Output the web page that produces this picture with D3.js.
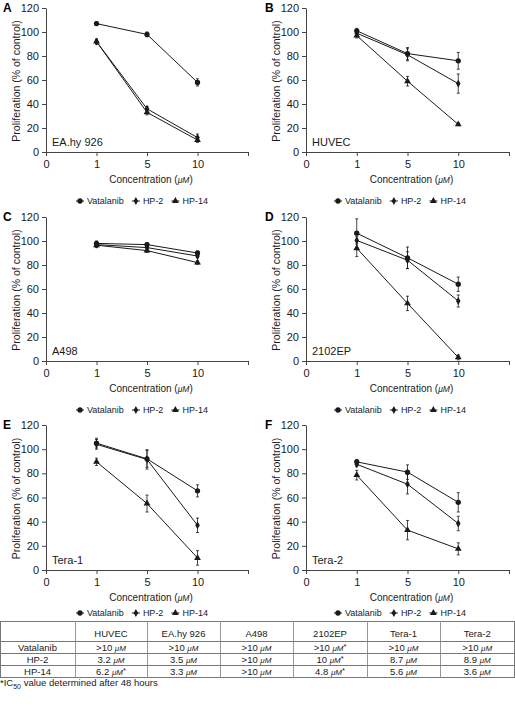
<!DOCTYPE html>
<html><head><meta charset="utf-8">
<script src="https://cdn.jsdelivr.net/npm/d3@7"></script>
<style>
html,body{margin:0;padding:0;background:#fff;}
svg{display:block;font-family:"Liberation Sans",Arial,Helvetica,sans-serif;}
</style></head>
<body>
<svg id="chart" width="515" height="712"></svg>
<script>
// ---------- data ----------
const categories = ["0", "1", "5", "10"];
const concentrations = ["1", "5", "10"];
const seriesNames = ["Vatalanib", "HP-2", "HP-14"];
const panelLetters = ["A", "B", "C", "D", "E", "F"];
const cellLines = ["EA.hy 926", "HUVEC", "A498", "2102EP", "Tera-1", "Tera-2"];
const yTicks = [0, 20, 40, 60, 80, 100, 120];

// values (% of control) at 1, 5, 10 µM, with error bar half-lengths
const eahyVatalanib = [107, 98, 58];     const eahyVatalanibErr = [1.5, 2, 3];
const eahyHP2 = [92, 36, 12];            const eahyHP2Err = [2, 2, 3];
const eahyHP14 = [92, 33, 10];           const eahyHP14Err = [2, 2, 2];

const huvecVatalanib = [101, 82, 76];    const huvecVatalanibErr = [2, 5, 7];
const huvecHP2 = [99, 81, 57];           const huvecHP2Err = [2, 5, 8];
const huvecHP14 = [97, 59, 23];          const huvecHP14Err = [2, 4, 1];

const a498Vatalanib = [98, 97, 90];      const a498VatalanibErr = [2, 1.5, 1.5];
const a498HP2 = [97, 94.5, 87.5];        const a498HP2Err = [2, 1.5, 1.5];
const a498HP14 = [96.5, 92, 82];         const a498HP14Err = [2, 1.5, 1.5];

const ep2102Vatalanib = [106.5, 86, 64]; const ep2102VatalanibErr = [12, 9, 6];
const ep2102HP2 = [100.5, 84, 50];       const ep2102HP2Err = [3, 7, 5];
const ep2102HP14 = [94, 48, 3];          const ep2102HP14Err = [7, 6, 2];

const tera1Vatalanib = [105, 92, 65.5];  const tera1VatalanibErr = [4, 7, 5];
const tera1HP2 = [104, 91.5, 37];        const tera1HP2Err = [4, 8, 6];
const tera1HP14 = [89.5, 55, 10];        const tera1HP14Err = [3, 7, 6];

const tera2Vatalanib = [89.5, 81, 56];   const tera2VatalanibErr = [2, 6, 8];
const tera2HP2 = [87.5, 71, 38.5];       const tera2HP2Err = [2, 8, 6];
const tera2HP14 = [78.5, 33, 17.5];      const tera2HP14Err = [4, 8, 5];

// IC50 table
const tableColumns = ["HUVEC", "EA.hy 926", "A498", "2102EP", "Tera-1", "Tera-2"];
const tableRows = ["Vatalanib", "HP-2", "HP-14"];
const ic50Vatalanib = [">10", ">10", ">10", ">10*", ">10", ">10"];
const ic50HP2 = ["3.2", "3.5", ">10", "10*", "8.7", "8.9"];
const ic50HP14 = ["6.2*", "3.3", ">10", "4.8*", "5.6", "3.6"];
const footnote = " value determined after 48 hours";

// ---------- assemble ----------
const panelData = [
  [[eahyVatalanib, eahyVatalanibErr], [eahyHP2, eahyHP2Err], [eahyHP14, eahyHP14Err]],
  [[huvecVatalanib, huvecVatalanibErr], [huvecHP2, huvecHP2Err], [huvecHP14, huvecHP14Err]],
  [[a498Vatalanib, a498VatalanibErr], [a498HP2, a498HP2Err], [a498HP14, a498HP14Err]],
  [[ep2102Vatalanib, ep2102VatalanibErr], [ep2102HP2, ep2102HP2Err], [ep2102HP14, ep2102HP14Err]],
  [[tera1Vatalanib, tera1VatalanibErr], [tera1HP2, tera1HP2Err], [tera1HP14, tera1HP14Err]],
  [[tera2Vatalanib, tera2VatalanibErr], [tera2HP2, tera2HP2Err], [tera2HP14, tera2HP14Err]]
];
const ic50 = [ic50Vatalanib, ic50HP2, ic50HP14];

// layout (positions)
const colX = [[46, 248], [306, 509]];
const rowY = [[152, 8], [361, 217], [570, 425]];
const legendY = [201, 410, 613];
const legendX = [76, 334];
const symbols = [d3.symbolCircle, d3.symbolDiamond, d3.symbolTriangle];
const symSizes = [22, 18, 20];
const ink = "#1a1a1a";

const svg = d3.select("#chart");

function drawMarker(g, i, x, y) {
  g.append("path")
    .attr("d", d3.symbol().type(symbols[i]).size(symSizes[i])())
    .attr("transform", `translate(${x},${y})`)
    .attr("fill", ink).attr("stroke", "none");
}

panelData.forEach((series, p) => {
  const col = p % 2, row = Math.floor(p / 2);
  const [x0, x1] = colX[col];
  const [yb, yt] = rowY[row];
  const x = d3.scalePoint().domain([...categories, "end"]).range([x0, x1]);
  const y = d3.scaleLinear().domain([0, 120]).range([yb, yt]);
  const g = svg.append("g");

  // y axis
  const ya = g.append("g").attr("transform", `translate(${x0},0)`)
    .call(d3.axisLeft(y).tickValues(yTicks).tickSize(4).tickSizeOuter(0).tickPadding(3));
  ya.selectAll("text").attr("font-size", 11).attr("fill", ink).attr("font-family", "Liberation Sans, Arial");
  ya.selectAll("line,path").attr("stroke", "#444");

  // x axis
  const xa = g.append("g").attr("transform", `translate(0,${yb})`)
    .call(d3.axisBottom(x).tickSize(4).tickSizeOuter(0).tickPadding(4)
      .tickFormat(d => d === "end" ? "" : d));
  xa.selectAll("text").attr("font-size", 11).attr("fill", ink).attr("font-family", "Liberation Sans, Arial");
  xa.selectAll("line,path").attr("stroke", "#444");

  // axis titles
  const xt = g.append("text").attr("x", (x0 + x1) / 2 + 4).attr("y", yb + 31)
    .attr("text-anchor", "middle").attr("font-size", 10).attr("fill", ink);
  xt.append("tspan").text("Concentration (");
  xt.append("tspan").attr("font-style", "italic").attr("font-size", 8.5).text("μM");
  xt.append("tspan").text(")");

  g.append("text")
    .attr("transform", `translate(${x0 - 26},${(yb + yt) / 2 + 1}) rotate(-90)`)
    .attr("text-anchor", "middle").attr("font-size", 10.5).attr("fill", ink)
    .text("Proliferation (% of control)");

  // panel letter
  g.append("text").attr("x", col === 0 ? 3 : 265).attr("y", yt + 4)
    .attr("font-size", 12).attr("font-weight", "bold").attr("fill", "#000")
    .text(panelLetters[p]);

  // cell line label
  g.append("text").attr("x", x0 + 6).attr("y", yb - 6)
    .attr("font-size", 11).attr("fill", ink).text(cellLines[p]);

  // series
  const line = d3.line().x(d => x(d.c)).y(d => y(d.v));
  series.forEach(([vals, errs], si) => {
    const pts = concentrations.map((c, k) => ({c, v: vals[k], e: errs[k]}));
    g.append("path").datum(pts).attr("d", line)
      .attr("fill", "none").attr("stroke", ink).attr("stroke-width", 1);
    pts.forEach(d => {
      const cx = x(d.c);
      g.append("line").attr("x1", cx).attr("x2", cx)
        .attr("y1", y(d.v - d.e)).attr("y2", y(d.v + d.e))
        .attr("stroke", ink).attr("stroke-width", 0.8);
      [d.v - d.e, d.v + d.e].forEach(v => {
        g.append("line").attr("x1", cx - 1.5).attr("x2", cx + 1.5)
          .attr("y1", y(v)).attr("y2", y(v)).attr("stroke", ink).attr("stroke-width", 0.8);
      });
      drawMarker(g, si, cx, y(d.v));
    });
  });
});

// legends
legendY.forEach(ly => {
  legendX.forEach(lx => {
    const lg = svg.append("g").attr("transform", `translate(${lx},${ly})`);
    let cx = 0;
    seriesNames.forEach((name, i) => {
      lg.append("line").attr("x1", cx).attr("x2", cx + 8).attr("y1", 0).attr("y2", 0)
        .attr("stroke", ink).attr("stroke-width", 1);
      drawMarker(lg, i, cx + 4, 0);
      const t = lg.append("text").attr("x", cx + 11).attr("y", 3.2)
        .attr("font-size", 9).attr("fill", ink).text(name);
      cx += 11 + t.node().getComputedTextLength() + 8;
    });
  });
});

// table
const tTop = 621;
const headerH = 20, rowH = 12;
const tx = d3.scalePoint().domain(["", ...tableColumns, "end"]).range([0, 515]);
const colEdges = [0, 75, 147, 220, 293, 367, 440, 514.5];
const tg = svg.append("g");
const tTotal = headerH + rowH * tableRows.length;
tg.append("rect").attr("x", 0.5).attr("y", tTop + 0.5).attr("width", 514).attr("height", tTotal)
  .attr("fill", "none").attr("stroke", "#777").attr("stroke-width", 1);
colEdges.slice(1, -1).forEach(cx => {
  tg.append("line").attr("x1", cx + 0.5).attr("x2", cx + 0.5)
    .attr("y1", tTop).attr("y2", tTop + tTotal + 0.5).attr("stroke", "#999");
});
for (let r = 0; r < tableRows.length; r++) {
  const yy = tTop + headerH + r * rowH + 0.5;
  tg.append("line").attr("x1", 0).attr("x2", 515).attr("y1", yy).attr("y2", yy).attr("stroke", "#777");
}
const colCenter = i => (colEdges[i] + colEdges[i + 1]) / 2;
tableColumns.forEach((c, i) => {
  tg.append("text").attr("x", colCenter(i + 1)).attr("y", tTop + 16)
    .attr("text-anchor", "middle").attr("font-size", 9.5).attr("fill", ink).text(c);
});
tableRows.forEach((rname, r) => {
  const by = tTop + headerH + r * rowH + 9.5;
  tg.append("text").attr("x", colCenter(0)).attr("y", by)
    .attr("text-anchor", "middle").attr("font-size", 9.5).attr("fill", ink).text(rname);
  ic50[r].forEach((val, i) => {
    const star = val.endsWith("*");
    const num = star ? val.slice(0, -1) : val;
    const t = tg.append("text").attr("x", colCenter(i + 1)).attr("y", by)
      .attr("text-anchor", "middle").attr("font-size", 9.5).attr("fill", ink);
    t.append("tspan").text(num + " ");
    t.append("tspan").attr("font-style", "italic").attr("font-size", 8).text("μM");
    if (star) t.append("tspan").attr("font-size", 7.5).attr("dy", -2).text("*");
  });
});

// footnote
const fn = svg.append("text").attr("x", 0).attr("y", 686).attr("font-size", 9.5).attr("fill", ink);
fn.append("tspan").text("*IC");
fn.append("tspan").attr("font-size", 7).attr("dy", 2.5).text("50");
fn.append("tspan").attr("dy", -2.5).text(footnote);
</script>
</body></html>
